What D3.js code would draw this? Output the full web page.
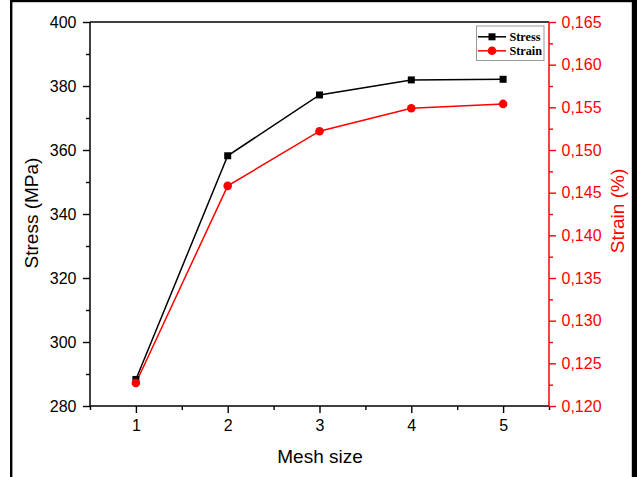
<!DOCTYPE html>
<html>
<head>
<meta charset="utf-8">
<script src="https://cdn.jsdelivr.net/npm/d3@7"></script>
<style>
  html, body { margin: 0; padding: 0; background: #fff; }
  svg { display: block; }
</style>
</head>
<body>
<svg id="chart" width="637" height="477"></svg>
<script>
const meshSizes = [1, 2, 3, 4, 5];
const stressValues = [288.3, 358.2, 377.2, 381.9, 382.1];
const strainValues = [0.1227, 0.1458, 0.1522, 0.1549, 0.1554];
const stressTicks = [280, 300, 320, 340, 360, 380, 400];
const strainTicks = [0.120, 0.125, 0.130, 0.135, 0.140, 0.145, 0.150, 0.155, 0.160, 0.165];
const xTicks = [1, 2, 3, 4, 5];
const seriesNames = ["Stress", "Strain"];

const svg = d3.select("#chart");
const L = 90, R = 549, T = 22, B = 406;
const RED = "#ff0000";

// frame
svg.append("rect").attr("x", 0).attr("y", 0).attr("width", 637).attr("height", 477).attr("fill", "#fff");
svg.append("rect").attr("x", 11.2).attr("y", 1).attr("width", 621.8).attr("height", 520)
  .attr("fill", "#fff").attr("stroke", "#000").attr("stroke-width", 2.4);
svg.append("rect").attr("x", 632).attr("y", 0).attr("width", 5).attr("height", 477).attr("fill", "#000");

const x = d3.scaleLinear().domain([0.5, 5.5]).range([L, R]);
const yL = d3.scaleLinear().domain([280, 400]).range([B, T]);
const yR = d3.scaleLinear().domain([0.120, 0.165]).range([B, T]);

const font = "'Liberation Sans', Arial, sans-serif";

function styleAxis(g, color) {
  g.select(".domain").remove();
  g.selectAll("line").attr("stroke", color).attr("stroke-width", 1.4);
  g.selectAll("text").attr("fill", color).attr("font-family", font).attr("font-size", "16px");
}

// minor ticks
const xMinor = d3.range(0.5, 5.51, 0.5).filter(v => !xTicks.includes(v));
const gxm = svg.append("g").attr("transform", `translate(0,${B})`)
  .call(d3.axisBottom(x).tickValues(xMinor).tickSize(4).tickFormat(""));
styleAxis(gxm, "#000");
const gylm = svg.append("g").attr("transform", `translate(${L},0)`)
  .call(d3.axisLeft(yL).tickValues(d3.range(290, 400, 20)).tickSize(4).tickFormat(""));
styleAxis(gylm, "#000");
const gyrm = svg.append("g").attr("transform", `translate(${R},0)`)
  .call(d3.axisRight(yR).tickValues(strainTicks.slice(0, -1).map(v => v + 0.0025)).tickSize(4).tickFormat(""));
styleAxis(gyrm, RED);

// major axes
const gx = svg.append("g").attr("transform", `translate(0,${B})`)
  .call(d3.axisBottom(x).tickValues(xTicks).tickSize(7).tickPadding(7).tickFormat(d3.format("d")));
styleAxis(gx, "#000");
const gyl = svg.append("g").attr("transform", `translate(${L},0)`)
  .call(d3.axisLeft(yL).tickValues(stressTicks).tickSize(7).tickPadding(6.5).tickFormat(d3.format("d")));
styleAxis(gyl, "#000");
const commaFmt = d => d3.format(".3f")(d).replace(".", ",");
const gyr = svg.append("g").attr("transform", `translate(${R},0)`)
  .call(d3.axisRight(yR).tickValues(strainTicks).tickSize(7).tickPadding(5.5).tickFormat(commaFmt));
styleAxis(gyr, RED);

// frame lines of plot
svg.append("line").attr("x1", L).attr("x2", R).attr("y1", T).attr("y2", T).attr("stroke", "#000").attr("stroke-width", 1.5);
svg.append("line").attr("x1", L).attr("x2", R).attr("y1", B).attr("y2", B).attr("stroke", "#000").attr("stroke-width", 1.5);
svg.append("line").attr("x1", L).attr("x2", L).attr("y1", T).attr("y2", B).attr("stroke", "#000").attr("stroke-width", 1.5);
svg.append("line").attr("x1", R).attr("x2", R).attr("y1", T).attr("y2", B).attr("stroke", RED).attr("stroke-width", 1.5);

// series
const stressData = meshSizes.map((m, i) => ({ x: m, y: stressValues[i] }));
const strainData = meshSizes.map((m, i) => ({ x: m, y: strainValues[i] }));

svg.append("path").datum(strainData)
  .attr("d", d3.line().x(d => x(d.x)).y(d => yR(d.y)))
  .attr("fill", "none").attr("stroke", RED).attr("stroke-width", 1.5);
svg.append("path").datum(stressData)
  .attr("d", d3.line().x(d => x(d.x)).y(d => yL(d.y)))
  .attr("fill", "none").attr("stroke", "#000").attr("stroke-width", 1.5);

svg.selectAll(".sq").data(stressData).enter().append("rect")
  .attr("x", d => x(d.x) - 3.5).attr("y", d => yL(d.y) - 3.5)
  .attr("width", 7).attr("height", 7).attr("fill", "#000");
svg.selectAll(".ci").data(strainData).enter().append("circle")
  .attr("cx", d => x(d.x)).attr("cy", d => yR(d.y)).attr("r", 4.3).attr("fill", RED);

// axis titles
svg.append("text").attr("x", 320).attr("y", 463).attr("text-anchor", "middle")
  .attr("font-family", font).attr("font-size", "19px").attr("fill", "#000").text("Mesh size");
svg.append("text").attr("transform", "translate(38,213) rotate(-90)").attr("text-anchor", "middle")
  .attr("font-family", font).attr("font-size", "19px").attr("fill", "#000").text("Stress (MPa)");
svg.append("text").attr("transform", "translate(624,211) rotate(-90)").attr("text-anchor", "middle")
  .attr("font-family", font).attr("font-size", "19px").attr("fill", RED).text("Strain (%)");

// legend
const lg = svg.append("g");
lg.append("rect").attr("x", 476.5).attr("y", 26).attr("width", 67.5).attr("height", 34.5)
  .attr("fill", "#fff").attr("stroke", "#999").attr("stroke-width", 1);
const legendY = [36.8, 50.8];
const colors = ["#000", RED];
seriesNames.forEach((name, i) => {
  const yy = legendY[i];
  lg.append("line").attr("x1", 478).attr("x2", 506).attr("y1", yy).attr("y2", yy)
    .attr("stroke", colors[i]).attr("stroke-width", 1.5);
  if (i === 0) {
    lg.append("rect").attr("x", 492 - 3.5).attr("y", yy - 3.5).attr("width", 7).attr("height", 7).attr("fill", "#000");
  } else {
    lg.append("circle").attr("cx", 492).attr("cy", yy).attr("r", 4.3).attr("fill", RED);
  }
  lg.append("text").attr("x", 509.5).attr("y", yy + 4.2)
    .attr("font-family", "'Liberation Serif', 'Times New Roman', serif").attr("font-weight", "bold")
    .attr("font-size", "12.2px").attr("fill", "#000").text(name);
});
</script>
</body>
</html>
